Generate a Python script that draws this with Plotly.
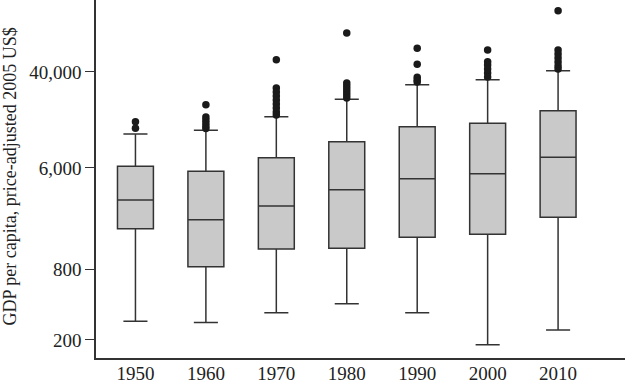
import plotly.graph_objects as go

years = [1950, 1960, 1970, 1980, 1990, 2000, 2010]
q1 = [1803, 850, 1206, 1223, 1521, 1613, 2257]
median = [3178, 2153, 2822, 3895, 4842, 5345, 7392]
q3 = [6185, 5604, 7333, 10060, 13530, 14470, 18560]
lowerfence = [289, 283, 343, 409, 343, 182, 243]
upperfence = [11715, 12600, 16490, 23260, 31030, 34250, 40930]

outliers = {
    1950: [14900, 13100],
    1960: [20900, 16390, 15450, 14560, 13720, 13060],
    1970: [50860, 29080, 26870, 24820, 22940, 21200, 19580, 18090, 17050],
    1980: [86240, 32090, 30250, 28500, 26870, 25320, 23860],
    1990: [63730, 46450, 35930, 34060, 32740],
    2000: [61610, 48900, 45800, 42330, 39110, 36140],
    2010: [134000, 61610, 56930, 52600, 48610, 44920, 42330],
}

y_tickvals = [200, 800, 6000, 40000]
y_ticktext = ["200", "800", "6,000", "40,000"]
y_title = "GDP per capita, price-adjusted 2005 US$"

font_family = "Liberation Serif"
text_color = "#222222"

fig = go.Figure()
fig.add_trace(go.Box(
    x=years, q1=q1, median=median, q3=q3,
    lowerfence=lowerfence, upperfence=upperfence,
    boxpoints=False, width=5.1, whiskerwidth=0.67,
    fillcolor="#c9c9c9", line=dict(color="#333333", width=1.5),
    showlegend=False, hoverinfo="skip",
))

ox, oy = [], []
for yr in years:
    for v in outliers[yr]:
        ox.append(yr)
        oy.append(v)
fig.add_trace(go.Scatter(
    x=ox, y=oy, mode="markers",
    marker=dict(color="#1a1a1a", size=7.5),
    showlegend=False, hoverinfo="skip",
))

fig.update_layout(
    width=625, height=384,
    margin=dict(l=96, r=0, t=0, b=26),
    paper_bgcolor="white", plot_bgcolor="white",
    font=dict(family=font_family, size=19, color=text_color),
    xaxis=dict(
        range=[1944.4, 2019.5], automargin=False,
        tickvals=years, ticktext=[str(y) for y in years],
        showline=True, linecolor="#333333", linewidth=1.5,
        ticks="", ticklabelstandoff=-3,
        showgrid=False, zeroline=False,
    ),
    yaxis=dict(
        type="log", range=[2.146, 5.219], automargin=False,
        tickvals=y_tickvals, ticktext=y_ticktext,
        showline=True, linecolor="#333333", linewidth=1.5,
        ticks="outside", ticklen=9, tickwidth=1.2, tickcolor="#333333",
        showgrid=False, zeroline=False,
    ),
    annotations=[dict(
        text=y_title, textangle=-90,
        xref="paper", yref="paper",
        x=(9 - 96) / 529, y=(358 - 176.5) / 358,
        xanchor="center", yanchor="middle",
        showarrow=False,
        font=dict(family=font_family, size=18, color=text_color),
    )],
)

fig.write_html(
    "out.html",
    config={"displayModeBar": False},
    post_script="document.body.style.margin='0px';document.body.style.overflow='hidden';",
)
